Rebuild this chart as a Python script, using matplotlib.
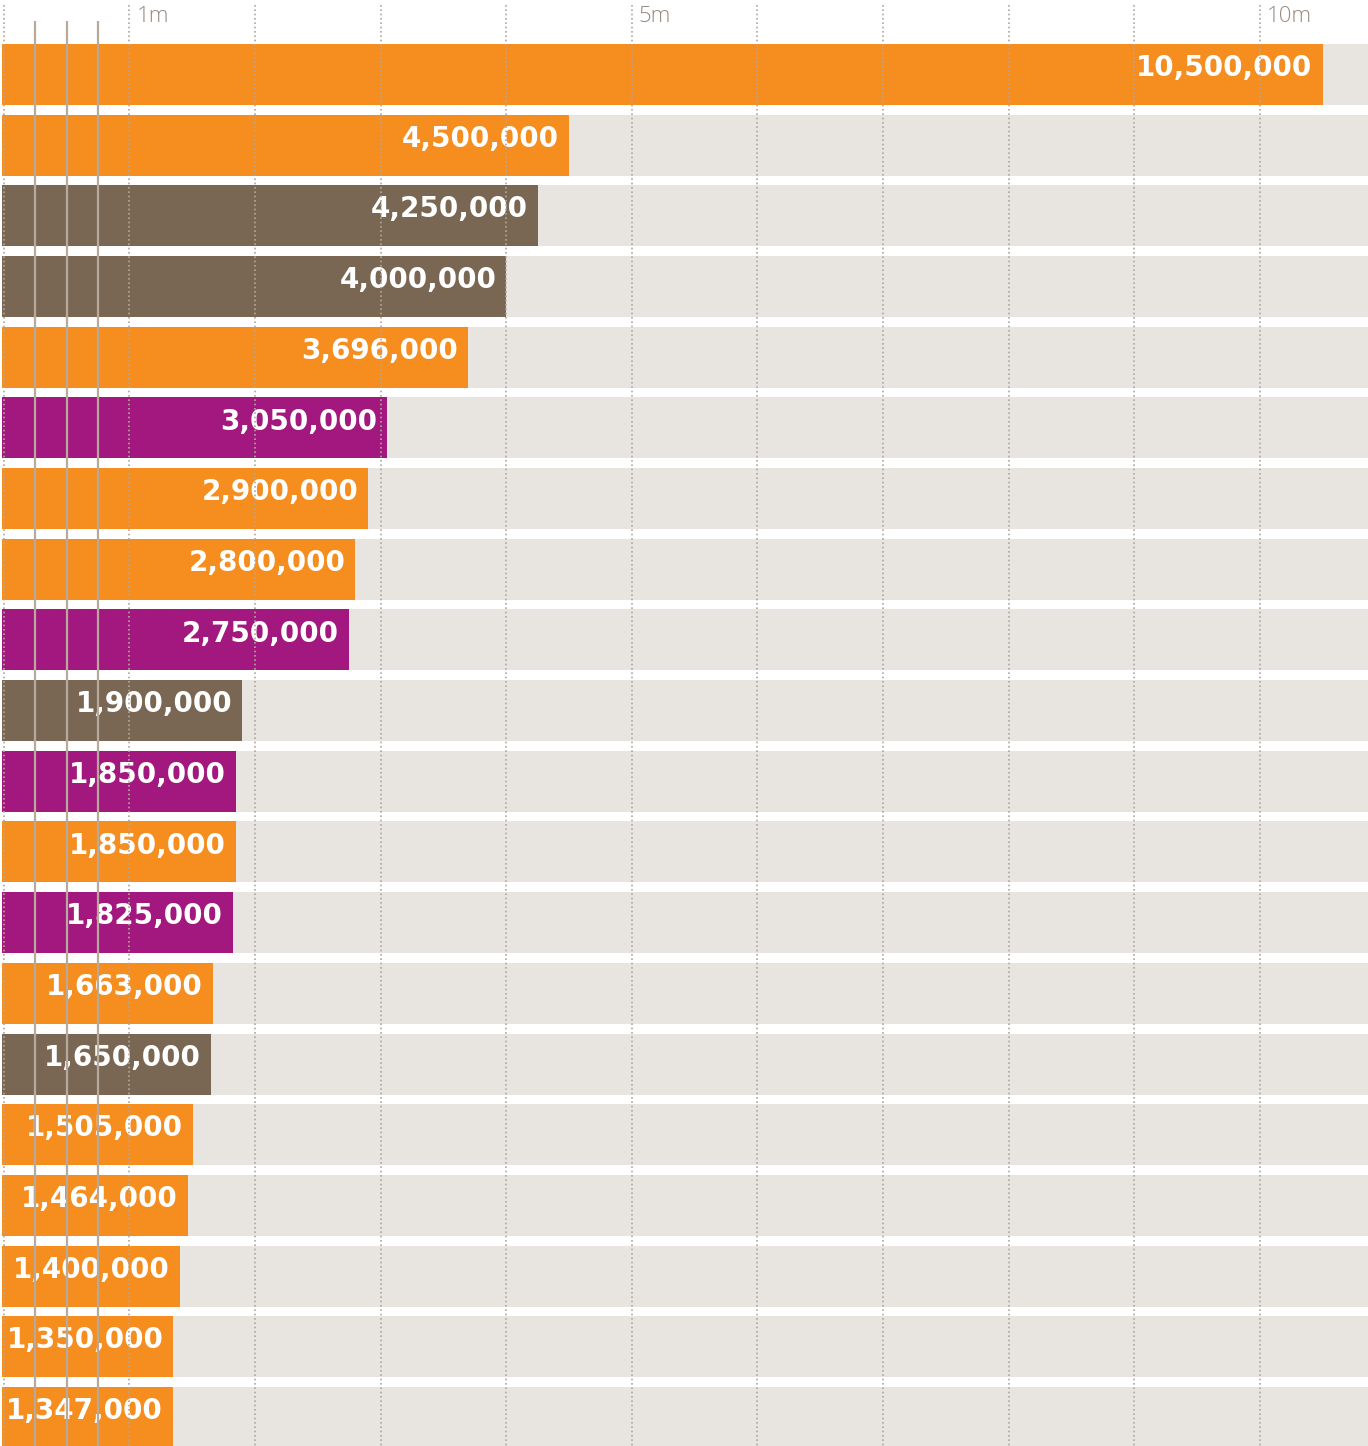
import matplotlib.pyplot as plt

values = [10500000, 4500000, 4250000, 4000000, 3696000, 3050000, 2900000,
          2800000, 2750000, 1900000, 1850000, 1850000, 1825000, 1663000,
          1650000, 1505000, 1464000, 1400000, 1350000, 1347000]
groups = ['o', 'o', 'b', 'b', 'o', 'p', 'o', 'o', 'p', 'b',
          'p', 'o', 'p', 'o', 'b', 'o', 'o', 'o', 'o', 'o']
grid_ticks = list(range(0, 11))
tick_labels = {1: '1m', 5: '5m', 10: '10m'}
minor_lines = [0.25, 0.5, 0.75]

colors = {'o': '#f58d1f', 'b': '#7a6753', 'p': '#a3187e'}
BG = '#e8e5e0'

fig = plt.figure(figsize=(13.68, 14.46), dpi=100)
ax = fig.add_axes([0, 0, 1, 1])

px = 125.6  # pixels per million
x0 = 3.8
xmin = -x0 / px
xmax = (1368 - x0) / px
pitch = 70.68
ytop = -74.5 / pitch
ybot = (1446 - 74.5) / pitch
ax.set_xlim(xmin, xmax)
ax.set_ylim(ybot, ytop)
ax.axis('off')

vals_m = [v / 1e6 for v in values]
ys = list(range(len(values)))
h = 61 / pitch

ax.barh(ys, [xmax - xmin] * len(ys), left=xmin + 2 / px, height=h, color=BG, zorder=1)
ax.barh(ys, [v + 1.8 / px for v in vals_m], left=-1.8 / px, height=h,
        color=[colors[g] for g in groups], zorder=2)

# value labels, white, right aligned inside the bar
for y, v, vm in zip(ys, values, vals_m):
    ax.text(vm - 10 / px, y - 0.09, f'{v:,}', ha='right', va='center',
            color='white', fontsize=20, fontweight='bold',
            family=['DejaVu Sans'], zorder=3)

ax.vlines(grid_ticks, ytop + 5 / pitch, ybot, colors='#b0a79d', lw=1.2,
          linestyles=(0, (1, 1.6)), zorder=4)
ax.vlines(minor_lines, ytop + 21 / pitch, ybot, colors='#b5aa9c', lw=1.6, zorder=5)

for t, lab in tick_labels.items():
    ax.text(t + 7 / px, ytop + 16 / pitch, lab, ha='left', va='center',
            color='#968b80', fontsize=16, fontweight='light',
            family=['Open Sans', 'DejaVu Sans'], zorder=6)

fig.savefig('out.png', dpi=100)
